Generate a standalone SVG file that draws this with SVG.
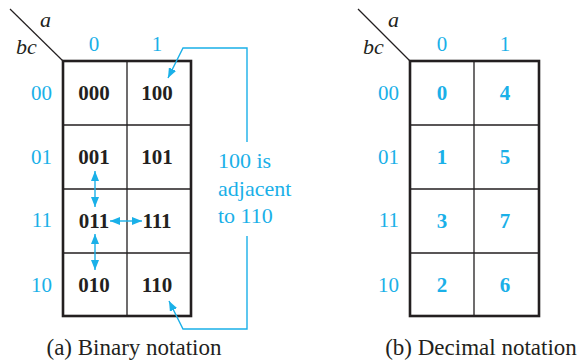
<svg xmlns="http://www.w3.org/2000/svg" width="582" height="361" viewBox="0 0 582 361">
<defs>
<marker id="ah" viewBox="0 0 10 8" refX="10" refY="4" markerWidth="10" markerHeight="8" markerUnits="userSpaceOnUse" orient="auto-start-reverse">
<path d="M0,0 L10,4 L0,8 Z" fill="#1ab0e8"/>
</marker>
</defs>
<style>
text{font-family:"Liberation Serif","Times New Roman",serif}
.grid{fill:none;stroke:#231f20;stroke-width:1.3}
.frame{fill:none;stroke:#231f20;stroke-width:2.6}
.diag{stroke:#231f20;stroke-width:1.2}
.var{font-style:italic;font-size:22px;fill:#231f20}
.hdr{font-size:21px;fill:#1ab0e8;text-anchor:middle}
.row{font-size:21px;fill:#1ab0e8;text-anchor:end}
.bin{font-size:21px;font-weight:bold;fill:#231f20;text-anchor:middle}
.dec{font-size:21px;font-weight:bold;fill:#1ab0e8;text-anchor:middle}
.note{font-size:22px;fill:#1ab0e8}
.cap{font-size:23px;fill:#231f20;text-anchor:middle}
.conn{fill:none;stroke:#1ab0e8;stroke-width:1.4}
</style>
<g id="map-a">
<line class="diag" x1="10" y1="9" x2="63" y2="61"/>
<text class="var" x="40" y="27">a</text>
<text class="var" x="16" y="54">bc</text>
<text class="hdr" x="94" y="51">0</text>
<text class="hdr" x="157" y="51">1</text>
<text class="row" x="52" y="100">00</text>
<text class="row" x="52" y="164">01</text>
<text class="row" x="52" y="227">11</text>
<text class="row" x="52" y="292">10</text>
<path class="grid" d="M127,61 V316 M63,125 H191 M63,189 H191 M63,253 H191"/>
<rect class="frame" x="63" y="61" width="128" height="255"/>
<text class="bin" x="94" y="100">000</text>
<text class="bin" x="157" y="100">100</text>
<text class="bin" x="94" y="164">001</text>
<text class="bin" x="157" y="164">101</text>
<text class="bin" x="94" y="228">011</text>
<text class="bin" x="157" y="228">111</text>
<text class="bin" x="94" y="292">010</text>
<text class="bin" x="157" y="292">110</text>
<text class="note" x="218" y="168">100 is</text>
<text class="note" x="218" y="196">adjacent</text>
<text class="note" x="218" y="223">to 110</text>
<text class="cap" x="134" y="355">(a) Binary notation</text>
</g>
<g id="map-b">
<line class="diag" x1="358" y1="9" x2="410" y2="61"/>
<text class="var" x="388" y="27">a</text>
<text class="var" x="363" y="54">bc</text>
<text class="hdr" x="442" y="51">0</text>
<text class="hdr" x="505" y="51">1</text>
<text class="row" x="399" y="100">00</text>
<text class="row" x="399" y="164">01</text>
<text class="row" x="399" y="227">11</text>
<text class="row" x="399" y="292">10</text>
<path class="grid" d="M474,61 V316 M410,125 H539 M410,189 H539 M410,253 H539"/>
<rect class="frame" x="410" y="61" width="129" height="255"/>
<text class="dec" x="442" y="100">0</text>
<text class="dec" x="505" y="100">4</text>
<text class="dec" x="442" y="164">1</text>
<text class="dec" x="505" y="164">5</text>
<text class="dec" x="442" y="228">3</text>
<text class="dec" x="505" y="228">7</text>
<text class="dec" x="442" y="292">2</text>
<text class="dec" x="505" y="292">6</text>
<text class="cap" x="481" y="355">(b) Decimal notation</text>
</g>
<g id="connectors">
<path class="conn" d="M247,142 V48 H183 L168,78" marker-end="url(#ah)"/>
<path class="conn" d="M247,236 V329 H183 L169,301" marker-end="url(#ah)"/>
<line class="conn" x1="95" y1="171" x2="95" y2="207" marker-start="url(#ah)" marker-end="url(#ah)"/>
<line class="conn" x1="95" y1="234" x2="95" y2="270" marker-start="url(#ah)" marker-end="url(#ah)"/>
<line class="conn" x1="110" y1="221" x2="142" y2="221" marker-start="url(#ah)" marker-end="url(#ah)"/>
</g>
</svg>
